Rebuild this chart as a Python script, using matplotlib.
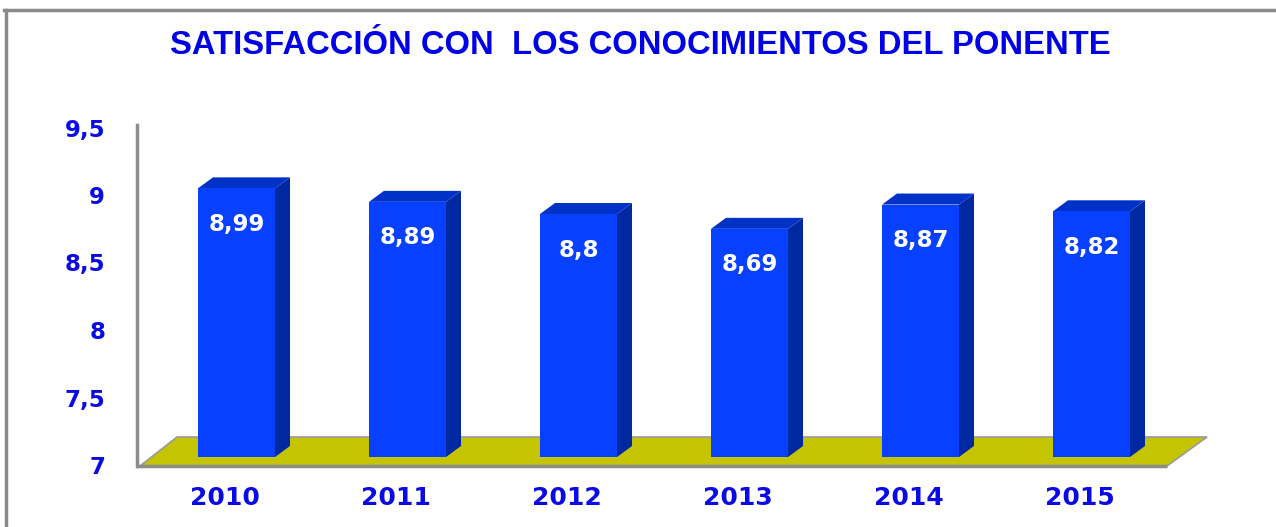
import matplotlib
matplotlib.use("Agg")
import matplotlib.pyplot as plt
from matplotlib.patches import Polygon
from matplotlib import font_manager

years = ["2010", "2011", "2012", "2013", "2014", "2015"]
values = [8.99, 8.89, 8.80, 8.69, 8.87, 8.82]
value_labels = ["8,99", "8,89", "8,8", "8,69", "8,87", "8,82"]
yticks = [7, 7.5, 8, 8.5, 9, 9.5]
ytick_labels = ["7", "7,5", "8", "8,5", "9", "9,5"]
title = "SATISFACCIÓN CON  LOS CONOCIMIENTOS DEL PONENTE"

W, H = 1276, 527
fig = plt.figure(figsize=(W / 100, H / 100), dpi=100)
fig.patch.set_facecolor("white")

# pixel geometry helpers (style only)
PX_X = 171.0   # px per category
PX_Y = 135.0   # px per unit value
x0_px = 236.5  # px center of first bar
ax_left_px, ax_bottom_px = 137, 60
ax_top_px = 527 - 110
xlo = (ax_left_px - x0_px) / PX_X
xhi = (W - x0_px) / PX_X
ylo = 7 - (527 - 465 - ax_bottom_px) / PX_Y
yhi = 7 + (ax_top_px - (527 - 465)) / PX_Y

ax = fig.add_axes([ax_left_px / W, ax_bottom_px / H,
                   1 - ax_left_px / W, (ax_top_px - ax_bottom_px) / H])
ax.set_xlim(xlo, xhi)
ax.set_ylim(ylo, yhi)
ax.set_facecolor("none")
for s in ["top", "right", "bottom"]:
    ax.spines[s].set_visible(False)
ax.spines["left"].set_color("#8c8c8c")
ax.spines["left"].set_linewidth(2.5)
ax.spines["left"].set_bounds(6.99, 9.52)

blue_txt = "#0a0ae6"
ax.set_yticks(yticks)
ax.set_yticklabels(ytick_labels, fontsize=16.5, fontweight="bold", color=blue_txt,
                   family="DejaVu Sans")
ax.tick_params(axis="y", length=0, pad=23)
ax.set_xticks([i - 0.07 for i in range(len(years))])
ax.set_xticklabels(years, fontsize=18, fontweight="bold", color=blue_txt,
                   family="DejaVu Sans")
ax.tick_params(axis="x", length=0, pad=14)

# depth offsets
ddx = 15 / PX_X
ddy = 11 / PX_Y
fdy = 8 / PX_Y
bw = 77 / PX_X

# floor
fl_bottom = 7 - 1 / PX_Y
fl_top = 7 + 28 / PX_Y
fl_l0 = (140 - x0_px) / PX_X
fl_l1 = (177 - x0_px) / PX_X
fl_r0 = (1167 - x0_px) / PX_X
fl_r1 = (1207 - x0_px) / PX_X
floor = Polygon([(fl_l0, fl_bottom), (fl_r0, fl_bottom), (fl_r1, fl_top), (fl_l1, fl_top)],
                closed=True, facecolor="#c4c400", edgecolor="#9a9a9a", linewidth=1.2,
                clip_on=False, zorder=1)
ax.add_patch(floor)
ax.plot([xlo, fl_r0], [fl_bottom, fl_bottom], color="#8c8c8c", lw=2.5,
        clip_on=False, zorder=1.5, solid_capstyle="butt")

front_c = "#0840ff"
side_c = "#0028a0"
top_c = "#0032c8"
for i, v in enumerate(values):
    xl = i - bw / 2
    xr = i + bw / 2
    yb = 7 + fdy
    yt = v + fdy
    side = Polygon([(xr, yb), (xr + ddx, yb + ddy), (xr + ddx, yt + ddy), (xr, yt)],
                   closed=True, facecolor=side_c, edgecolor="none", zorder=2, clip_on=False)
    top = Polygon([(xl, yt), (xl + ddx, yt + ddy), (xr + ddx, yt + ddy), (xr, yt)],
                  closed=True, facecolor=top_c, edgecolor="none", zorder=2, clip_on=False)
    ax.add_patch(side)
    ax.add_patch(top)
    ax.bar(i, v - 7, bottom=yb, width=bw, color=front_c, edgecolor="none", zorder=3)
    ax.text(i, yt - 36 / PX_Y, value_labels[i], ha="center", va="center",
            color="white", fontsize=16.5, fontweight="bold", family="DejaVu Sans", zorder=4)

# title
names = {f.name for f in font_manager.fontManager.ttflist}
tfam = "Liberation Sans Narrow" if "Liberation Sans Narrow" in names else "Liberation Sans"
t = fig.text(640 / W, 1 - 46 / H, title, ha="center", va="center",
             fontsize=19, fontweight="bold", color="#0000e6", family=tfam)
fig.canvas.draw()
bb = t.get_window_extent()
target = 940.0
t.set_fontsize(19 * target / bb.width)

# frame
fig.add_artist(plt.Line2D([5.5 / W, 5.5 / W], [0, 1 - 9.5 / H], color="#8a8a8a", lw=2.5,
                          transform=fig.transFigure))
fig.add_artist(plt.Line2D([4 / W, 1], [1 - 9.5 / H, 1 - 9.5 / H], color="#8a8a8a", lw=2.5,
                          transform=fig.transFigure))

fig.savefig("out.png", dpi=100, facecolor="white")
